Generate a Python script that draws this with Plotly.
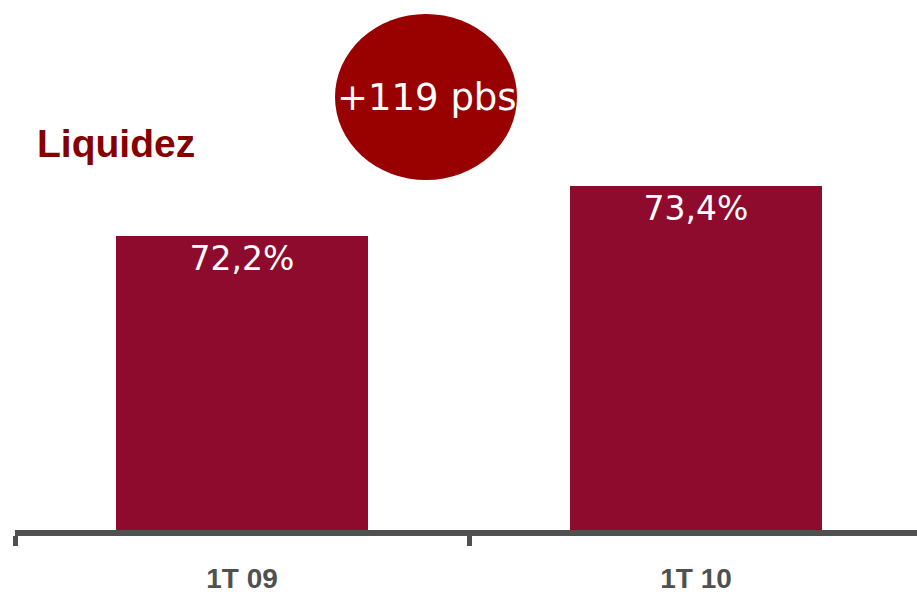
import plotly.graph_objects as go

# ---- data ----
categories = ["1T 09", "1T 10"]
values = [72.2, 73.4]
value_labels = ["72,2%", "73,4%"]
title_text = "Liquidez"
change_text = "+119 pbs"

# ---- style ----
BAR_COLOR = "#8E0B2D"
CIRCLE_COLOR = "#990000"
TITLE_COLOR = "#850000"
AXIS_COLOR = "#505050"
BAR_WIDTH = 0.557

W, H = 917, 594
ML, MR, MT = 15, 0, 0
MB = H - 530
plot_w = W - ML - MR
plot_h = H - MT - MB

fig = go.Figure()

fig.add_trace(go.Bar(
    x=categories,
    y=values,
    width=BAR_WIDTH,
    marker=dict(color=BAR_COLOR, line=dict(width=0)),
    text=value_labels,
    textposition="inside",
    insidetextanchor="end",
    textangle=0,
    textfont=dict(family="DejaVu Sans", size=33, color="white"),
    hoverinfo="skip",
))

# dotted connector between the tops of the two bars
fig.add_trace(go.Scatter(
    x=[0 + BAR_WIDTH / 2, 1 - BAR_WIDTH / 2 + 0.018],
    y=[values[0] - 0.1, values[1] - 0.19],
    mode="lines",
    line=dict(color="black", width=5, dash="5px,5px"),
    hoverinfo="skip",
    showlegend=False,
))

def px_x(p):  # window pixel -> paper
    return (p - ML) / plot_w

def px_y(p):
    return (H - MB - p) / plot_h

# circle badge
fig.add_shape(
    type="circle", xref="paper", yref="paper",
    x0=px_x(335), x1=px_x(517), y0=px_y(180), y1=px_y(14),
    fillcolor=CIRCLE_COLOR, line=dict(width=0), layer="above",
)
fig.add_annotation(
    text=change_text, xref="paper", yref="paper",
    x=px_x(427), y=px_y(98), xanchor="center", yanchor="middle",
    showarrow=False,
    font=dict(family="DejaVu Sans", size=37, color="white"),
)
fig.add_annotation(
    text="<b>" + title_text + "</b>", xref="paper", yref="paper",
    x=px_x(35), y=px_y(143), xanchor="left", yanchor="middle",
    showarrow=False,
    font=dict(family="Liberation Sans, Arial", size=39, color=TITLE_COLOR),
)

v_lo = 65.144
px_per_unit = 50 / 1.2
v_hi = v_lo + plot_h / px_per_unit

fig.update_layout(
    width=W, height=H,
    margin=dict(l=ML, r=MR, t=MT, b=MB, pad=0),
    paper_bgcolor="white", plot_bgcolor="white",
    showlegend=False,
    bargap=0,
    xaxis=dict(
        type="category",
        range=[-0.5, -0.5 + plot_w / 454],
        tickson="boundaries",
        ticks="outside", ticklen=10, tickwidth=5, tickcolor=AXIS_COLOR,
        showline=True, linecolor=AXIS_COLOR, linewidth=6,
        showgrid=False, zeroline=False,
        ticklabelstandoff=18,
        tickfont=dict(family="Liberation Sans, Arial", size=28, color=AXIS_COLOR, weight="bold"),
        fixedrange=True,
    ),
    yaxis=dict(
        range=[v_lo, v_hi],
        visible=False, showgrid=False, zeroline=False,
        fixedrange=True,
    ),
)

fig.write_html(
    "out.html",
    config={"displayModeBar": False},
    post_script="document.body.style.margin='0';document.body.style.overflow='hidden';",
)
